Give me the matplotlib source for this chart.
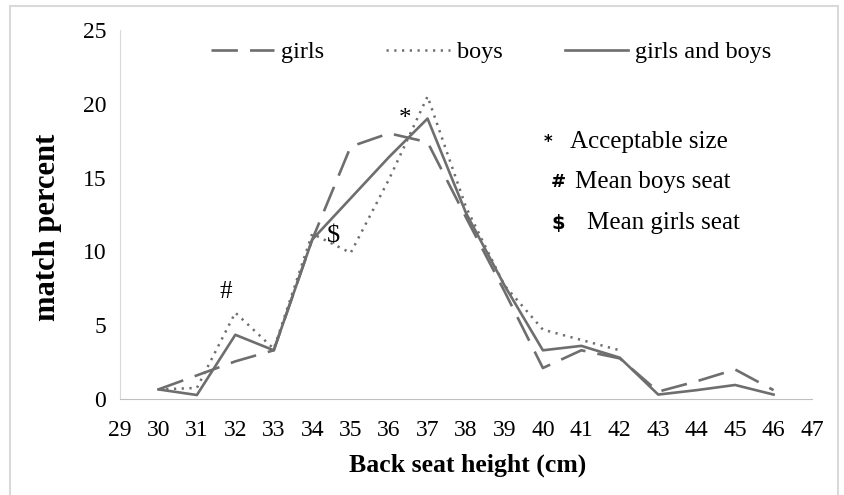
import numpy as np
import matplotlib
matplotlib.use("Agg")
import matplotlib.pyplot as plt
from matplotlib.patches import Rectangle

# data
heights = [30, 31, 32, 33, 34, 35, 36, 37, 38, 39, 40, 41, 42, 43, 44, 45, 46]
girls = [0.65, 1.6, 2.55, 3.3, 10.8, 17.1, 18.0, 17.4, 12.3, 7.3, 2.1, 3.3, 2.75, 0.5, 1.2, 2.0, 0.6]
boys = [0.65, 0.75, 5.85, 3.4, 11.2, 9.9, 14.9, 20.5, 13.0, 7.7, 4.7, 4.0, 3.3,
        np.nan, np.nan, np.nan, np.nan]
both = [0.65, 0.27, 4.35, 3.3, 10.8, 13.6, 16.4, 19.0, 12.6, 7.7, 3.3, 3.6, 2.8, 0.3, 0.6, 0.95, 0.3]
x_ticks = list(range(29, 48))
y_ticks = [0, 5, 10, 15, 20, 25]
series_names = ["girls", "boys", "girls and boys"]

W, H = 845, 495
serif = ["Liberation Serif", "DejaVu Serif"]
plt.rcParams["font.family"] = serif
line_col = "#6e6e6e"

fig = plt.figure(figsize=(W / 100, H / 100), dpi=100)
ax = fig.add_axes([120 / W, 1 - 399 / H, 692 / W, 369 / H])

# lines
ax.plot(heights, girls, color=line_col, lw=1.9, linestyle=(0, (10, 4.6)),
        label=series_names[0])
ax.plot(heights, boys, color=line_col, lw=1.8, linestyle=(0, (0.9, 2.2)),
        label=series_names[1])
ax.plot(heights, both, color=line_col, lw=1.9, label=series_names[2])

ax.set_xlim(29, 47)
ax.set_ylim(0, 25)
ax.set_xticks(x_ticks)
ax.set_yticks(y_ticks)
ax.tick_params(axis="both", length=0, labelsize=17)
ax.tick_params(axis="x", pad=15)
ax.tick_params(axis="y", pad=10)

for s in ["top", "right"]:
    ax.spines[s].set_visible(False)
ax.spines["left"].set_color("#d9d9d9")
ax.spines["bottom"].set_color("#bfbfbf")

ax.set_xlabel("Back seat height (cm)", fontsize=18.5, fontweight="bold")
ax.xaxis.set_label_coords((468 - 120) / 692, -(454 - 399) / 369)
ax.set_ylabel("match percent", fontsize=22, fontweight="bold")
ax.yaxis.set_label_coords(-(120 - 62) / 692, (399 - 227) / 369)

# symbols on the curves
ax.text(31.76, 7.27, "#", fontsize=18, ha="center", va="center")
ax.text(34.55, 11.0, "$", fontsize=19, ha="center", va="center")
ax.text(36.41, 19.0, "*", fontsize=18, ha="center", va="center")

# legend
ax.legend(loc="center", bbox_to_anchor=(491 / W, 1 - 52 / H),
          bbox_transform=fig.transFigure, ncol=3, frameon=False,
          fontsize=17.5, handlelength=2.6, handletextpad=0.3,
          columnspacing=2.55)

# key for the symbols
def fx(px):
    return px / W

def fy(py):
    return 1 - py / H

sym_font = ["DejaVu Sans"]
fig.text(fx(548), fy(142), "*", fontsize=12, fontweight="bold",
         family=sym_font, ha="center", va="center")
fig.text(fx(570), fy(142), "Acceptable size", fontsize=18, ha="left", va="center")
fig.text(fx(558), fy(182), "#", fontsize=13, fontweight="bold",
         family=sym_font, ha="center", va="center")
fig.text(fx(575), fy(182), "Mean boys seat", fontsize=18, ha="left", va="center")
fig.text(fx(558), fy(223), "$", fontsize=14, fontweight="bold",
         family=sym_font, ha="center", va="center")
fig.text(fx(587), fy(223), "Mean girls seat", fontsize=18, ha="left", va="center")

# chart area border
fig.patches.append(Rectangle((10 / W, -0.05), 828 / W, 1.05 - 6 / H,
                             transform=fig.transFigure, fill=False,
                             edgecolor="#d9d9d9", lw=1.5))

fig.savefig("out.png", dpi=100)
